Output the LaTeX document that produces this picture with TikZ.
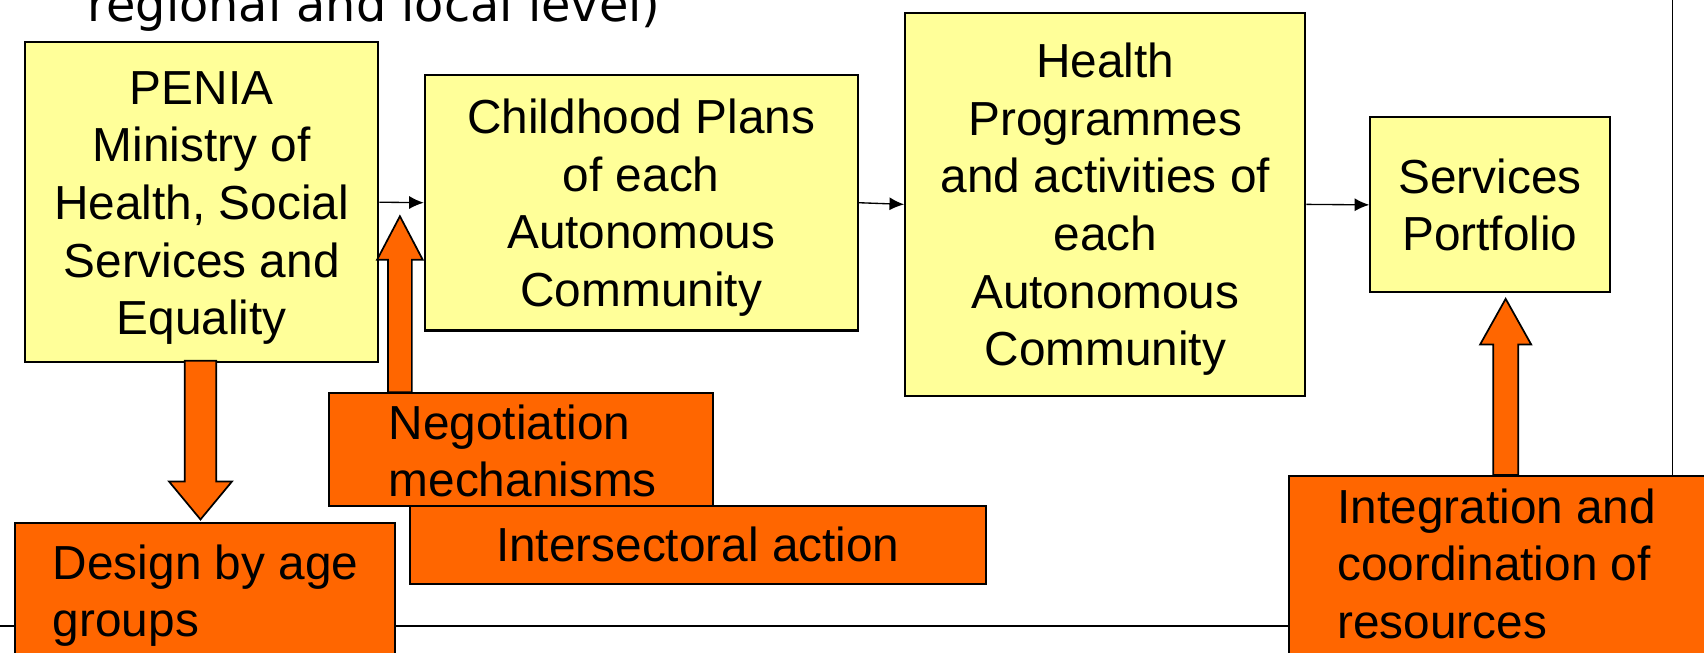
\documentclass[tikz,border=0pt]{standalone}
\usepackage{fontspec}
\setmainfont{Liberation Sans}
\newfontfamily\dvsfont{DejaVu Sans}
\usetikzlibrary{arrows.meta,calc}
\definecolor{boxyellow}{HTML}{FFFF99}
\definecolor{boxorange}{HTML}{FF6600}
\newcommand\diagfont{\fontsize{12.5pt}{15.08pt}\selectfont}
\newcommand\firstpad{\rule{0pt}{0.41cm}}
\pgfdeclarelayer{bg}
\pgfsetlayers{bg,main}
\begin{document}
\begin{tikzpicture}[x=0.01cm,y=-0.01cm,
  ybox/.style={draw=black,line width=0.55pt,fill=boxyellow,inner sep=0pt,align=center,font=\diagfont,anchor=north west},
  obox/.style={draw=black,line width=0.55pt,fill=boxorange,inner sep=0pt,anchor=north west},
  otext/.style={inner sep=0pt,anchor=north west,align=left,font=\diagfont},
  conn/.style={line width=0.35pt,-{Latex[length=0.135cm,width=0.12cm]}},
  framel/.style={line width=0.5pt},
  block/.style={draw=black,line width=0.45pt,fill=boxorange}]
\useasboundingbox (0,0) rectangle (1568,600);
\clip (0,0) rectangle (1568,600);

% cut-off heading text
\node[anchor=base west,inner sep=0pt,font=\dvsfont\diagfont] (head) at (80,20) {regional and local level)};

% yellow boxes
\node[ybox,minimum width=3.25cm,minimum height=2.94cm] (pe) at (22,38) {\firstpad PENIA\\Ministry of\\Health, Social\\Services and\\Equality};
\node[ybox,minimum width=3.98cm,minimum height=2.35cm] (ch) at (390,68) {\firstpad Childhood Plans\\of each\\Autonomous\\Community};
\node[ybox,minimum width=3.68cm,minimum height=3.52cm] (hp) at (832,11) {\firstpad Health\\Programmes\\and activities of\\each\\Autonomous\\Community};
\node[ybox,minimum width=2.20cm,minimum height=1.61cm] (sp) at (1260,107) {Services\\Portfolio};

% connectors
\draw[conn] (pe.east) -- (ch.west);
\draw[conn] (ch.east) -- (hp.west);
\draw[conn] (hp.east) -- (sp.west);

% orange boxes
\node[obox,minimum width=3.49cm,minimum height=1.40cm] (dg) at (13,480) {};
\node[otext] (dgt) at (48,500.5) {Design by age\\groups};
\node[obox,minimum width=3.53cm,minimum height=1.035cm] (ng) at (302,361) {};
\node[otext] (ngt) at (357,371.5) {Negotiation\\mechanisms};
\node[obox,minimum width=5.30cm,minimum height=0.715cm,font=\diagfont] (ia) at (376,464.5) {Intersectoral action};
\node[obox,minimum width=4.00cm,minimum height=2.00cm] (ic) at (1185,437) {};
\node[otext] (ict) at (1230,449) {Integration and\\coordination of\\resources};

% frame lines (behind)
\coordinate (ftop) at (1539,0);
\coordinate (fleft) at (0,576);
\begin{pgfonlayer}{bg}
\draw[framel] (ftop) -- (ftop |- ic.north);
\draw[framel] (fleft) -- (fleft -| ic.west);
\end{pgfonlayer}

% block arrows
\draw[block] (170,332) -- (170,443) -- (155.5,443) -- (184.5,478) -- (213.5,443) -- (199,443) -- (199,332) -- cycle;
\draw[block] (357,361) -- (357,239) -- (347,239) -- (368,199) -- (389,239) -- (379,239) -- (379,361) -- cycle;
\draw[block] (1374,437) -- (1374,317) -- (1362,317) -- (1385.5,275) -- (1409,317) -- (1397,317) -- (1397,437) -- cycle;
\end{tikzpicture}
\end{document}
